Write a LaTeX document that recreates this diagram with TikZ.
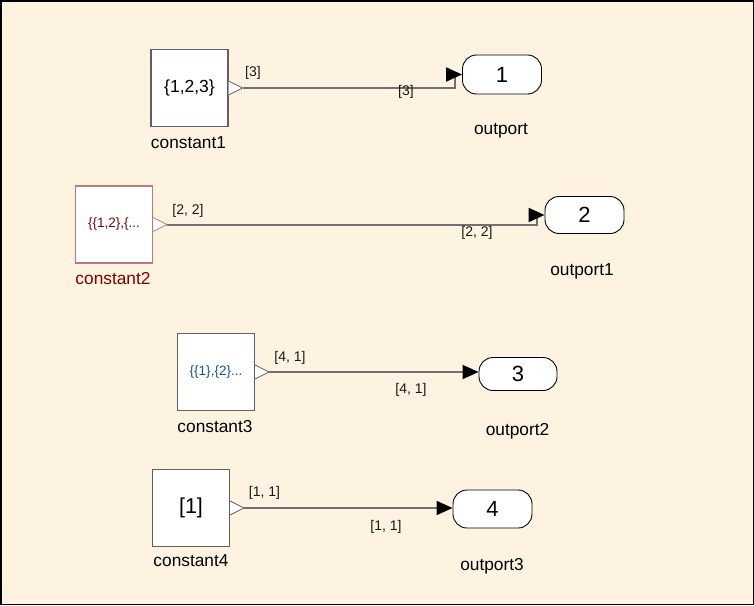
\documentclass[tikz,border=0pt]{standalone}
\usepackage{fontspec}
\setmainfont{Liberation Sans}
\usetikzlibrary{arrows.meta}
\definecolor{bg}{HTML}{FEF3E0}
\definecolor{boxgray}{HTML}{606060}
\definecolor{linegray}{HTML}{707070}
\definecolor{pinkbd}{HTML}{C07878}
\definecolor{darkred}{HTML}{800000}
\definecolor{valblue}{HTML}{1050A0}
\begin{document}
\begin{tikzpicture}[x=1pt,y=-1pt,
  blockbox/.style={draw=boxgray, fill=white, line width=1.1pt, minimum width=77pt, minimum height=77pt, inner sep=0pt, font=\fontsize{17.5}{17.5}\selectfont},
  outbox/.style={draw=black, fill=white, line width=0.9pt, rounded corners=14pt, minimum width=79pt, minimum height=38pt, inner sep=0pt, font=\fontsize{22}{22}\selectfont},
  porttri/.style={draw=boxgray, fill=white, line width=0.8pt},
  conn/.style={draw=linegray, line width=2pt, -{Triangle[length=16pt,width=14pt,color=black]}},
  siglabel/.style={font=\fontsize{14}{14}\selectfont, text=black!90, inner sep=0pt},
  namelabel/.style={font=\fontsize{17.3}{17.3}\selectfont, inner sep=0pt}]
\useasboundingbox (0,0) rectangle (754,605);
\fill[bg] (0,0) rectangle (754,605);
\draw[black, line width=1.5pt] (0.75,0.75) rectangle (753.25,604.25);

% block 1
\node[blockbox] (b1) at (189.5,88) {\{1,2,3\}};
\draw[porttri] ([yshift=7pt]b1.east) -- ([xshift=14pt]b1.east) -- ([yshift=-7pt]b1.east);
\coordinate (b1o) at ([xshift=14pt]b1.east);
\node[namelabel] (n1) at (188.5,142.5) {constant1};
\node[outbox, minimum height=39pt] (o1) at (502,74.5) {1};
\node[namelabel] (m1) at (501,130.5) {outport};
\draw[conn] (b1o) -- ++(212,0) |- (o1.west);
\node[siglabel] (s1a) at (253,73) {[3]};
\node[siglabel] (s1b) at (406,91.5) {[3]};

% block 2
\node[blockbox, draw=pinkbd, font=\fontsize{13.5}{13.5}\selectfont, text=darkred] (b2) at (114,224.5) {\{\{1,2\},\{...};
\draw[porttri, draw=pinkbd] ([yshift=7pt]b2.east) -- ([xshift=14pt]b2.east) -- ([yshift=-7pt]b2.east);
\coordinate (b2o) at ([xshift=14pt]b2.east);
\node[namelabel, text=darkred] (n2) at (113,279) {constant2};
\node[outbox, minimum height=37pt] (o2) at (584.5,215) {2};
\node[namelabel] (m2) at (582,271) {outport1};
\draw[conn] (b2o) -- ++(370,0) |- (o2.west);
\node[siglabel] (s2a) at (188,210.5) {[2, 2]};
\node[siglabel] (s2b) at (477,233) {[2, 2]};

% block 3
\node[blockbox, font=\fontsize{13.5}{13.5}\selectfont, text=valblue] (b3) at (216,372) {\{\{1\},\{2\}...};
\draw[porttri] ([yshift=7pt]b3.east) -- ([xshift=14pt]b3.east) -- ([yshift=-7pt]b3.east);
\coordinate (b3o) at ([xshift=14pt]b3.east);
\node[namelabel] (n3) at (215,426.5) {constant3};
\node[outbox, minimum width=78pt, minimum height=33pt] (o3) at (518,374) {3};
\node[namelabel] (m3) at (517.5,431) {outport2};
\draw[conn] (b3o) -- (b3o -| o3.west);
\node[siglabel] (s3a) at (290,358) {[4, 1]};
\node[siglabel] (s3b) at (411,390) {[4, 1]};

% block 4
\node[blockbox, font=\fontsize{21.5}{21.5}\selectfont] (b4) at (191,508) {[1]};
\draw[porttri] ([yshift=7pt]b4.east) -- ([xshift=14pt]b4.east) -- ([yshift=-7pt]b4.east);
\coordinate (b4o) at ([xshift=14pt]b4.east);
\node[namelabel] (n4) at (191,561) {constant4};
\node[outbox] (o4) at (492.5,509) {4};
\node[namelabel] (m4) at (492,566) {outport3};
\draw[conn] (b4o) -- (b4o -| o4.west);
\node[siglabel] (s4a) at (264.5,493) {[1, 1]};
\node[siglabel] (s4b) at (386,526.5) {[1, 1]};
\end{tikzpicture}
\end{document}
